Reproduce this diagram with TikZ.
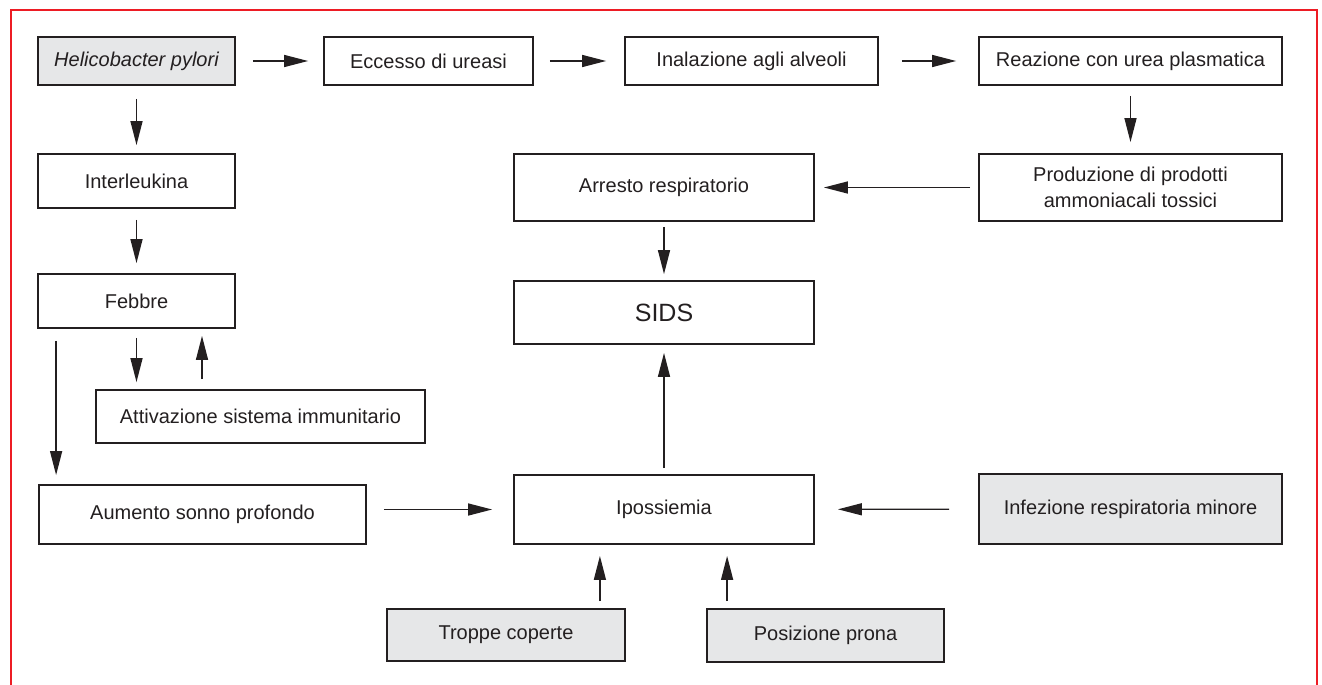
\documentclass[tikz,border=0pt]{standalone}
\usepackage{fontspec}
\setmainfont{Liberation Sans}
\usetikzlibrary{arrows.meta}
\usetikzlibrary{calc}

\definecolor{framered}{RGB}{237,28,36}
\definecolor{boxgray}{RGB}{230,231,232}
\definecolor{ink}{RGB}{35,31,32}

\tikzset{
  blk/.style={draw=ink, line width=0.9pt, inner sep=0pt, text=ink, align=center, font=\fontsize{10}{13}\selectfont},
  blkg/.style={blk, fill=boxgray},
  flow/.style={draw=ink, line width=0.7pt, -{Triangle[length=12pt, width=6pt]}},
}

\begin{document}
\begin{tikzpicture}[x=0.5pt, y=-0.5pt]
    \useasboundingbox (0,0) rectangle (1322,685);
    \draw[framered, line width=1.3pt] (11,685) -- (11,10) -- (1317,10) -- (1317,685);

    % top row
    \node[blkg, minimum width=98.5pt, minimum height=24pt] (hp) at (136.5,61) {\itshape Helicobacter pylori};
    \node[blk, minimum width=104.5pt, minimum height=24pt] (ecc) at (428.5,61) {Eccesso di ureasi};
    \node[blk, minimum width=126.5pt, minimum height=24pt] (ina) at (751.5,61) {Inalazione agli alveoli};
    \node[blk, minimum width=151.5pt, minimum height=24pt] (rea) at (1130.5,61) {Reazione con urea plasmatica};

    % left column
    \node[blk, minimum width=98.5pt, minimum height=27pt] (int) at (136.5,181) {Interleukina};
    \node[blk, minimum width=98.5pt, minimum height=27pt] (feb) at (136.5,301) {Febbre};
    \node[blk, minimum width=164.5pt, minimum height=26.5pt] (att) at (260.5,416.5) {Attivazione sistema immunitario};
    \node[blk, minimum width=163.5pt, minimum height=29.5pt] (aum) at (202.5,514.5) {Aumento sonno profondo};

    % middle and right
    \node[blk, minimum width=150pt, minimum height=33.5pt] (arresto) at (664,187.5) {Arresto respiratorio};
    \node[blk, minimum width=151.5pt, minimum height=33.5pt] (pro) at (1130.5,187.5) {Produzione di prodotti\\ammoniacali tossici};
    \node[blk, minimum width=150pt, minimum height=31.5pt, font=\fontsize{12.5}{15}\selectfont] (sids) at (664,312.5) {SIDS};
    \node[blk, minimum width=150pt, minimum height=34.5pt] (ips) at (664,509.5) {Ipossiemia};
    \node[blkg, minimum width=151.5pt, minimum height=35pt] (inf) at (1130.5,509) {Infezione respiratoria minore};
    \node[blkg, minimum width=119pt, minimum height=26pt] (tro) at (506,635) {Troppe coperte};
    \node[blkg, minimum width=118.5pt, minimum height=26.5pt] (pos) at (825.5,635.5) {Posizione prona};

    \draw[flow, shorten <=8.5pt, shorten >=7.5pt] (hp) -- (ecc);
    \draw[flow, shorten <=8pt, shorten >=9pt] (ecc) -- (ina);
    \draw[flow, shorten <=11.5pt, shorten >=11pt] (ina) -- (rea);
    \draw[flow, shorten <=5pt, shorten >=5.5pt] (rea) -- (pro);
    \draw[flow, shorten <=4pt, shorten >=4.5pt] (pro) -- (arresto);
    \draw[flow, shorten <=2.5pt, shorten >=3pt] (arresto) -- (sids);
    \draw[flow, shorten <=3pt, shorten >=4pt] (ips) -- (sids);

    \draw[flow, shorten <=6.5pt, shorten >=4pt] (hp) -- (int);
    \draw[flow, shorten <=5.5pt, shorten >=5pt] (int) -- (feb);
    \draw[flow, shorten <=4.5pt, shorten >=3.5pt] (feb.south) -- (feb.south |- att.north);
    \draw[flow, shorten <=5pt, shorten >=3.5pt] ($(feb.south |- att.north)+(65.5,0)$) -- ($(feb.south)+(65.5,0)$);
    \draw[flow, shorten <=6pt, shorten >=4.5pt] ($(feb.south west)+(19,0)$) -- ($(feb.south west |- aum.north)+(19,0)$);

    \draw[flow, shorten <=8.5pt, shorten >=10.5pt] (aum.east |- ips) -- (ips.west);
    \draw[flow, shorten <=14.5pt, shorten >=11.5pt] (inf) -- (ips);
    \draw[flow, shorten <=3.5pt, shorten >=5.5pt] ($(tro.north east)+(-26,0)$) -- ($(tro.north east |- ips.south)+(-26,0)$);
    \draw[flow, shorten <=3.5pt, shorten >=5.5pt] ($(pos.north west)+(21,0)$) -- ($(pos.north west |- ips.south)+(21,0)$);
\end{tikzpicture}
\end{document}
